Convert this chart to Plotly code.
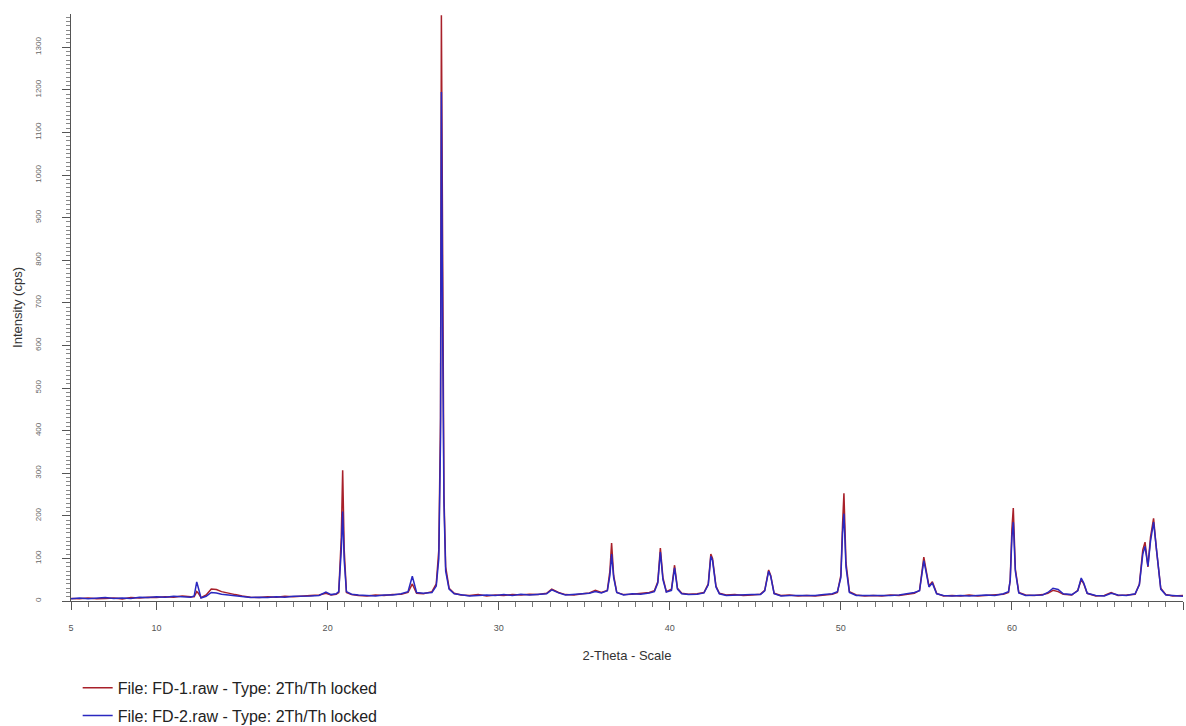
import plotly.graph_objects as go

# 2-theta positions (deg)
two_theta = [
    5.0, 5.5, 6.0, 6.5, 7.0, 7.5, 8.0, 8.5, 9.0, 9.5, 10.0, 10.5, 11.0, 11.5, 12.0,
    12.2, 12.35, 12.45, 12.6,
    12.9, 13.2, 13.5, 13.8, 14.2, 14.6, 15.0,
    15.5, 16.0, 16.5, 17.0, 17.5, 18.0, 18.5, 19.0, 19.5,
    19.9, 20.2, 20.5,
    20.65, 20.8, 20.88, 20.97, 21.1, 21.4,
    21.8, 22.3, 22.8, 23.3, 23.8, 24.3,
    24.7, 24.95, 25.2,
    25.6, 26.1, 26.35,
    26.5, 26.6, 26.65, 26.72, 26.8, 26.9, 27.1, 27.4,
    27.8, 28.3, 28.8, 29.3, 29.8, 30.3, 30.8, 31.3, 31.8, 32.3, 32.8,
    33.1, 33.5,
    33.9, 34.4, 34.9, 35.3,
    35.65, 36.0,
    36.35, 36.5, 36.6, 36.72, 36.9,
    37.3, 37.8, 38.3, 38.8, 39.1,
    39.3, 39.45, 39.6, 39.8,
    40.1, 40.28, 40.45, 40.7,
    41.1, 41.6, 42.0,
    42.25, 42.4, 42.5, 42.7, 42.9,
    43.3, 43.8, 44.3, 44.8, 45.3,
    45.55, 45.78, 45.9, 46.1,
    46.5, 47.0, 47.5, 48.0, 48.5, 49.0, 49.5, 49.8,
    50.0, 50.1, 50.18, 50.3, 50.5,
    50.9, 51.4, 51.9, 52.4, 52.9, 53.4, 53.9, 54.3,
    54.6, 54.85, 54.95, 55.15, 55.35, 55.6,
    56.0, 56.5, 57.0, 57.5, 58.0, 58.5, 59.0, 59.5, 59.8,
    59.9, 60.0, 60.08, 60.2, 60.4,
    60.8, 61.3, 61.8, 62.1,
    62.4, 62.7, 63.0,
    63.5, 63.85,
    64.05, 64.2, 64.4,
    64.9, 65.4, 65.8, 66.2, 66.7, 67.2,
    67.45, 67.65, 67.78, 67.95, 68.1, 68.28, 68.45, 68.7, 69.0,
    69.4, 70.0,
]

# Intensity (cps) of FD-1
fd1_cps = [
    6, 5, 7, 5, 6, 7, 5, 8, 7, 9, 8, 10, 9, 12, 10,
    10, 22, 18, 8,
    14, 28, 27, 22, 18, 15, 12,
    9, 8, 10, 9, 11, 10, 12, 13, 14,
    18, 14, 16,
    20, 150, 307, 120, 20, 15,
    13, 12, 14, 13, 15, 16,
    20, 40, 18,
    17, 22, 40,
    120, 430, 1375, 700, 250, 80, 30, 18,
    14, 13, 15, 12, 14, 13, 15, 14, 16, 15, 18,
    28, 20,
    15, 14, 17, 19,
    25, 20,
    25, 70, 136, 60, 20,
    15, 16, 18, 20, 24,
    45, 124, 55, 22,
    28, 84, 30, 18,
    16, 17, 20,
    40, 110, 100, 35, 18,
    14, 15, 13, 14, 16,
    25, 73, 60, 18,
    13, 14, 12, 13, 12, 14, 16, 20,
    60, 180, 253, 90, 22,
    14, 12, 13, 12, 14, 13, 16, 18,
    25, 103, 80, 35, 45, 18,
    12, 13, 12, 14, 12, 13, 14, 16, 20,
    50, 170, 218, 75, 20,
    14, 13, 15, 18,
    25, 22, 16,
    14, 25,
    50, 40, 18,
    12, 13, 20, 13, 14, 16,
    40, 120, 138, 80, 150, 194, 120, 30, 15,
    12, 13,
]

# Intensity (cps) of FD-2
fd2_cps = [
    5, 7, 5, 6, 8, 6, 7, 6, 9, 8, 10, 9, 11, 10, 9,
    12, 45, 30, 7,
    11, 20, 19, 16, 14, 12, 10,
    8, 9, 8, 10, 9, 11, 11, 12, 13,
    21, 15, 17,
    22, 120, 210, 95, 22, 16,
    14, 13, 12, 14, 14, 17,
    22, 58, 20,
    18, 20, 35,
    100, 380, 1195, 650, 230, 70, 28, 17,
    15, 12, 13, 14, 13, 15, 13, 16, 14, 16, 17,
    26, 19,
    14, 15, 16, 18,
    22, 19,
    24, 60, 110, 55, 20,
    14, 17, 16, 19, 22,
    42, 115, 50, 21,
    25, 78, 28, 17,
    15, 16, 19,
    38, 105, 95, 33, 17,
    13, 14, 14, 15, 15,
    24, 70, 58, 17,
    12, 13, 13, 12, 13, 15, 17, 22,
    55, 160, 205, 80, 20,
    13, 13, 12, 13, 13, 14, 17, 20,
    24, 95, 75, 33, 42, 17,
    13, 12, 13, 12, 13, 14, 13, 17, 22,
    48, 150, 185, 70, 19,
    13, 14, 14, 20,
    30, 27, 17,
    15, 24,
    54, 42, 18,
    13, 12, 18, 14, 13, 17,
    38, 110, 128, 82, 140, 185, 115, 28, 14,
    13, 11,
]

x_ticks = [5, 10, 20, 30, 40, 50, 60, 70]
y_ticks = list(range(0, 1400, 100))

FONT = "Liberation Sans, Arial, sans-serif"

fig = go.Figure()
fig.add_trace(go.Scatter(
    x=two_theta, y=fd1_cps, mode="lines",
    name="File: FD-1.raw - Type: 2Th/Th locked", legendgroup="fd1",
    line=dict(color="#A8202A", width=1.5),
))
fig.add_trace(go.Scatter(
    x=two_theta, y=fd2_cps, mode="lines",
    name="File: FD-2.raw - Type: 2Th/Th locked", legendgroup="fd2",
    line=dict(color="#2A28C0", width=1.5),
))

fig.update_layout(
    width=1186, height=726,
    paper_bgcolor="white", plot_bgcolor="white",
    margin=dict(l=71, r=3, t=14, b=125, autoexpand=False),
    font=dict(family=FONT, color="#333"),
    showlegend=True,
    legend=dict(
        x=0.006, y=-0.119, xanchor="left", yanchor="top",
        font=dict(size=16, color="#222", family=FONT),
        bgcolor="rgba(0,0,0,0)", itemwidth=30,
        tracegroupgap=4,
    ),
    xaxis=dict(
        range=[5, 70], tickvals=x_ticks, ticktext=[str(v) for v in x_ticks],
        showgrid=False, zeroline=False,
        showline=True, linecolor="#555", linewidth=1,
        ticks="outside", ticklen=8, tickcolor="#555",
        minor=dict(dtick=1, ticks="outside", ticklen=5, tickcolor="#777"),
        tickfont=dict(size=9, color="#555"),
        ticklabelstandoff=10,
        title=dict(text="2-Theta - Scale", font=dict(size=13, color="#333"), standoff=19),
        automargin=False,
    ),
    yaxis=dict(
        range=[0, 1378], tickvals=y_ticks, ticktext=[str(v) for v in y_ticks],
        showgrid=False, zeroline=False,
        showline=True, linecolor="#555", linewidth=1,
        ticks="outside", ticklen=8, tickcolor="#555",
        minor=dict(dtick=10, ticks="outside", ticklen=4, tickcolor="#888"),
        tickangle=-90,
        tickfont=dict(size=8, color="#666"),
        ticklabelstandoff=18,
        title=dict(text="Intensity (cps)", font=dict(size=13, color="#333"), standoff=8),
        automargin=False,
    ),
)

fig.write_html(
    "out.html",
    config={"displayModeBar": False},
    post_script="document.body.style.margin='0px';",
)
